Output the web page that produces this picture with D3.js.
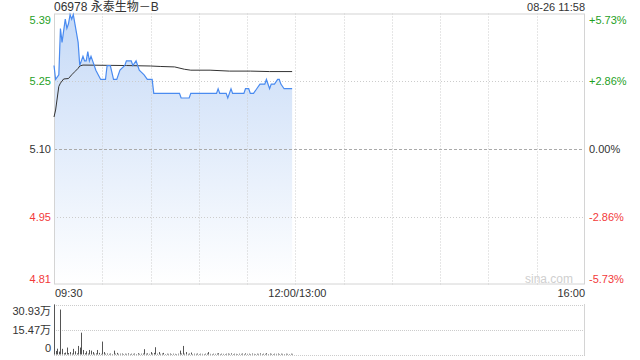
<!DOCTYPE html>
<html>
<head>
<meta charset="utf-8">
<script src="https://cdn.jsdelivr.net/npm/d3@7"></script>
<style>
  body { margin: 0; background: #fff; }
  svg { display: block; font-family: Arial, "Liberation Sans", "Noto Sans CJK SC", sans-serif; }
</style>
</head>
<body>
<svg id="chart" width="640" height="360"></svg>
<script>
//stock info
var title = "06978 永泰生物－B";
var stamp = "08-26 11:58";
var preClose = 5.10;
//tick labels
var pctTicks = [5.73, 2.86, 0, -2.86, -5.73];
var priceLabels = ["5.39", "5.25", "5.10", "4.95", "4.81"];
var pctLabels = ["+5.73%", "+2.86%", "0.00%", "-2.86%", "-5.73%"];
var timeLabels = ["09:30", "12:00/13:00", "16:00"];
var volLabels = ["30.93万", "15.47万", "0"];
var volMax = 309300;

//price line, minutes after 09:30 and price
var priceMin = [0, 1, 3, 4, 5, 7, 8, 9, 10, 11, 12, 13, 14, 15, 16, 17, 18, 19, 20, 21, 22, 23, 24, 25, 26, 29, 32, 33, 35, 37, 39, 41, 44, 45, 48, 49, 51, 52, 53, 56, 58, 61, 62, 78, 79, 84, 85, 101, 102, 103, 107, 108, 109, 110, 111, 118, 119, 121, 122, 124, 126, 128, 131, 132, 134, 135, 137, 139, 140, 141, 143, 148];
var priceVal = [5.28, 5.25, 5.26, 5.36, 5.33, 5.38, 5.36, 5.37, 5.39, 5.38, 5.39, 5.37, 5.35, 5.33, 5.28, 5.29, 5.30, 5.29, 5.29, 5.31, 5.29, 5.30, 5.29, 5.28, 5.27, 5.25, 5.25, 5.28, 5.28, 5.25, 5.25, 5.27, 5.28, 5.29, 5.29, 5.28, 5.29, 5.28, 5.27, 5.26, 5.25, 5.25, 5.22, 5.22, 5.21, 5.21, 5.22, 5.22, 5.23, 5.22, 5.22, 5.21, 5.22, 5.23, 5.22, 5.22, 5.23, 5.23, 5.22, 5.22, 5.23, 5.24, 5.24, 5.25, 5.23, 5.24, 5.24, 5.25, 5.25, 5.24, 5.23, 5.23];

//average price line
var avgMin = [0, 1, 3, 4, 6, 9, 11, 13, 15, 16, 18, 45, 60, 66, 75, 81, 85, 97, 109, 122, 134, 148];
var avgVal = [5.169, 5.184, 5.235, 5.242, 5.251, 5.252, 5.26, 5.267, 5.274, 5.279, 5.281, 5.280, 5.279, 5.278, 5.277, 5.272, 5.270, 5.270, 5.268, 5.268, 5.267, 5.267];

//volume per minute from 09:30
var volume = [309300, 22000, 36000, 18000, 278000, 35000, 8000, 12000, 43000, 9000,
  15000, 6000, 35000, 20000, 7000, 53000, 43000, 135000, 28000, 8000,
  20000, 6000, 28000, 24000, 15000, 5000, 7000, 28000, 10000, 4000,
  80000, 15000, 5000, 6000, 4000, 6000, 3000, 24000, 5000, 10000,
  4000, 5000, 6000, 3000, 5000, 4000, 7000, 3000, 5000, 4000,
  6000, 3000, 8000, 4000, 5000, 6000, 33000, 5000, 7000, 4000,
  15000, 6000, 10000, 45000, 5000, 15000, 4000, 6000, 10000, 3000,
  5000, 4000, 6000, 3000, 5000, 4000, 3000, 5000, 24000, 6000,
  53000, 5000, 15000, 4000, 6000, 12000, 3000, 5000, 4000, 6000,
  3000, 5000, 4000, 3000, 5000, 6000, 15000, 4000, 3000, 5000,
  4000, 6000, 8000, 3000, 5000, 4000, 3000, 5000, 6000, 4000,
  7000, 3000, 5000, 4000, 3000, 5000, 4000, 6000, 3000, 7000,
  4000, 5000, 3000, 6000, 4000, 3000, 5000, 4000, 7000, 3000,
  5000, 4000, 8000, 3000, 6000, 4000, 3000, 5000, 4000, 6000,
  3000, 5000, 4000, 3000, 5000, 4000, 3000, 5000, 4000];

var svg = d3.select("#chart");
//plot box (top is taken by window.top, so own names)
var pLeft = 54, pRight = 585, pTop = 13.5, pBottom = 284.5;
var green = "#1f9f1f", red = "#f23a3a", grey = "#cccccc";

// -- scales
var x = d3.scaleLinear().domain([0, 330]).range([pLeft, pRight]);
var y = d3.scaleLinear()
  .domain([preClose * (1 - 0.0573), preClose * (1 + 0.0573)])
  .range([pBottom, pTop]);
var vy = d3.scaleLinear().domain([0, volMax]).range([354.5, 304.5]);

function labelColor(i) {
  if (pctTicks[i] > 0) return green;
  if (pctTicks[i] < 0) return red;
  return "#333";
}

// -- gradient for area
var grad = svg.append("defs").append("linearGradient")
  .attr("id", "fillGrad")
  .attr("gradientUnits", "userSpaceOnUse")
  .attr("x1", 0).attr("x2", 0).attr("y1", pTop).attr("y2", pBottom);
grad.append("stop").attr("offset", 0).attr("stop-color", "#c6daf7");
grad.append("stop").attr("offset", 1).attr("stop-color", "#ffffff");

var priceData = priceMin.map(function(m, i) { return { m: m, v: priceVal[i] }; });
var avgData = avgMin.map(function(m, i) { return { m: m, v: avgVal[i] }; });

// -- area under price
svg.append("path")
  .datum(priceData)
  .attr("fill", "url(#fillGrad)")
  .attr("d", d3.area()
    .x(function(d) { return x(d.m); })
    .y0(pBottom)
    .y1(function(d) { return y(d.v); }));

// -- vertical grid lines every 30 minutes
var vgrid = d3.range(30, 330, 30);
svg.selectAll(".vgrid")
  .data(vgrid)
  .enter()
  .append("line")
  .attr("x1", function(d) { return Math.round(x(d)) + 0.5; })
  .attr("x2", function(d) { return Math.round(x(d)) + 0.5; })
  .attr("y1", pTop).attr("y2", pBottom)
  .attr("stroke", grey)
  .attr("stroke-dasharray", "1,2");

// -- horizontal grid lines
svg.selectAll(".hgrid")
  .data(pctTicks.slice(1, 4))
  .enter()
  .append("line")
  .attr("x1", pLeft).attr("x2", pRight)
  .attr("y1", function(d) { return Math.round(y(preClose * (1 + d / 100))) + 0.5; })
  .attr("y2", function(d) { return Math.round(y(preClose * (1 + d / 100))) + 0.5; })
  .attr("stroke", function(d) { return d === 0 ? "#aaaaaa" : grey; })
  .attr("stroke-dasharray", function(d) { return d === 0 ? "3,2" : "1,2"; });

// -- frame
svg.append("rect")
  .attr("x", pLeft + 0.5).attr("y", pTop + 0.5)
  .attr("width", pRight - pLeft - 1).attr("height", pBottom - pTop - 1)
  .attr("fill", "none")
  .attr("stroke", "#d4d4d4");

// -- average line
svg.append("path")
  .datum(avgData)
  .attr("fill", "none")
  .attr("stroke", "#333")
  .attr("stroke-width", 1)
  .attr("d", d3.line()
    .x(function(d) { return x(d.m); })
    .y(function(d) { return y(d.v); }));

// -- price line
svg.append("path")
  .datum(priceData)
  .attr("fill", "none")
  .attr("stroke", "#4a8bf0")
  .attr("stroke-width", 1.2)
  .attr("d", d3.line()
    .x(function(d) { return x(d.m); })
    .y(function(d) { return y(d.v); }));

// -- left price labels
svg.selectAll(".plabel")
  .data(priceLabels)
  .enter()
  .append("text")
  .attr("x", 51)
  .attr("y", function(d, i) {
    var yy = y(preClose * (1 + pctTicks[i] / 100));
    if (i === 0) return yy + 10.5;
    if (i === 4) return yy - 2;
    return yy + 4;
  })
  .attr("text-anchor", "end")
  .attr("font-size", 11)
  .attr("fill", function(d, i) { return labelColor(i); })
  .text(function(d) { return d; });

// -- right percent labels
svg.selectAll(".rlabel")
  .data(pctLabels)
  .enter()
  .append("text")
  .attr("x", 589)
  .attr("y", function(d, i) {
    var yy = y(preClose * (1 + pctTicks[i] / 100));
    if (i === 0) return yy + 10.5;
    if (i === 4) return yy - 2;
    return yy + 4;
  })
  .attr("font-size", 11)
  .attr("fill", function(d, i) { return labelColor(i); })
  .text(function(d) { return d; });

// -- time labels
svg.append("text").attr("x", 55).attr("y", 297).attr("font-size", 11).attr("fill", "#333")
  .text(timeLabels[0]);
svg.append("text").attr("x", x(150) + 2).attr("y", 297).attr("font-size", 11).attr("fill", "#333")
  .attr("text-anchor", "middle").text(timeLabels[1]);
svg.append("text").attr("x", pRight).attr("y", 297).attr("font-size", 11).attr("fill", "#333")
  .attr("text-anchor", "end").text(timeLabels[2]);

// -- title and time stamp
svg.append("text").attr("x", 54).attr("y", 11).attr("font-size", 12).attr("fill", "#333")
  .text(title);
svg.append("text").attr("x", pRight).attr("y", 11).attr("font-size", 11).attr("fill", "#333")
  .attr("text-anchor", "end").text(stamp);

// -- watermark
svg.append("text").attr("x", 573).attr("y", 283).attr("font-size", 12).attr("fill", "#cfcfcf")
  .attr("text-anchor", "end").text("sina.com");

// -- volume panel grid
svg.selectAll(".vline")
  .data([volMax, volMax / 2, 0])
  .enter()
  .append("line")
  .attr("x1", pLeft).attr("x2", pRight)
  .attr("y1", function(d) { return Math.round(vy(d)) + 0.5; })
  .attr("y2", function(d) { return Math.round(vy(d)) + 0.5; })
  .attr("stroke", grey)
  .attr("stroke-dasharray", "1,1");
svg.append("line")
  .attr("x1", pRight - 0.5).attr("x2", pRight - 0.5)
  .attr("y1", 304).attr("y2", 355)
  .attr("stroke", "#d4d4d4");
svg.append("line")
  .attr("x1", pLeft + 0.5).attr("x2", pLeft + 0.5)
  .attr("y1", 304).attr("y2", 355)
  .attr("stroke", "#d4d4d4");

// -- volume bars
svg.selectAll(".bar")
  .data(volume)
  .enter()
  .append("rect")
  .attr("class", "bar")
  .attr("x", function(d, i) { return Math.round(x(i)); })
  .attr("y", function(d) { return vy(d); })
  .attr("width", 1)
  .attr("height", function(d) { return vy(0) - vy(d); })
  .attr("fill", "#555");

// -- volume labels
svg.selectAll(".vlabel")
  .data(volLabels)
  .enter()
  .append("text")
  .attr("x", 51)
  .attr("y", function(d, i) { return [315, 333.5, 352][i]; })
  .attr("text-anchor", "end")
  .attr("font-size", 11)
  .attr("fill", "#333")
  .text(function(d) { return d; });
</script>
</body>
</html>
